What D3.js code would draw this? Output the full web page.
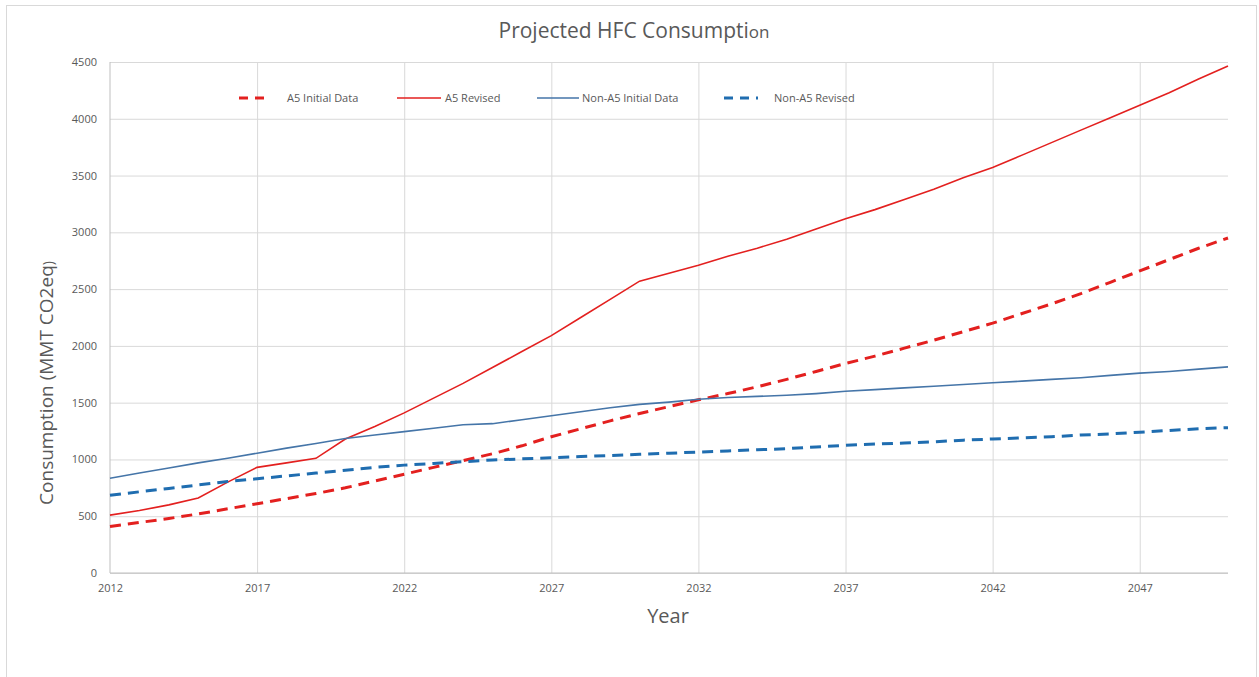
<!DOCTYPE html>
<html>
<head>
<meta charset="utf-8">
<script src="https://cdn.jsdelivr.net/npm/d3@7"></script>
<style>
  body { margin: 0; background: #fff; }
  text { font-family: "Open Sans", "DejaVu Sans", sans-serif; fill: #595959; }
</style>
</head>
<body>
<div id="chart"></div>
<script>
// years on the category axis
var years = d3.range(2012, 2051);
var xTickLabels = [2012, 2017, 2022, 2027, 2032, 2037, 2042, 2047];
var yTickLabels = [0, 500, 1000, 1500, 2000, 2500, 3000, 3500, 4000, 4500];

// values (MMT CO2eq)
var a5Initial = [410, 445, 480, 520, 565, 610, 655, 700, 750, 810, 870, 930, 990, 1050, 1120, 1200, 1270, 1340, 1405, 1465,
  1525, 1580, 1640, 1705, 1775, 1845, 1910, 1980, 2050, 2125, 2200, 2285, 2370, 2460, 2560, 2660, 2760, 2860, 2950];
var a5Revised = [510, 550, 600, 660, 800, 930, 970, 1010, 1180, 1290, 1410, 1540, 1670, 1810, 1950, 2090, 2250, 2410, 2570, 2640,
  2710, 2790, 2860, 2940, 3030, 3120, 3200, 3290, 3380, 3480, 3570, 3680, 3790, 3900, 4010, 4120, 4230, 4350, 4465];
var nonA5Initial = [835, 880, 925, 970, 1010, 1055, 1100, 1140, 1185, 1215, 1245, 1275, 1305, 1315, 1350, 1385, 1420, 1455, 1485, 1505,
  1530, 1545, 1555, 1565, 1580, 1600, 1615, 1630, 1645, 1660, 1675, 1690, 1705, 1720, 1740, 1760, 1775, 1795, 1815];
var nonA5Revised = [685, 715, 745, 775, 805, 830, 855, 880, 905, 930, 950, 965, 980, 995, 1005, 1015, 1025, 1035, 1045, 1055,
  1065, 1075, 1085, 1095, 1110, 1125, 1135, 1145, 1155, 1170, 1180, 1190, 1200, 1215, 1225, 1240, 1255, 1270, 1280];

var seriesNames = ["A5 Initial Data", "A5 Revised", "Non-A5 Initial Data", "Non-A5 Revised"];

var series = [
  {name: seriesNames[0], values: a5Initial, color: "#e3201f", width: 3, dash: "11,7"},
  {name: seriesNames[1], values: a5Revised, color: "#e3201f", width: 1.6, dash: null},
  {name: seriesNames[2], values: nonA5Initial, color: "#4575a8", width: 1.6, dash: null},
  {name: seriesNames[3], values: nonA5Revised, color: "#1f6db0", width: 3, dash: "11,7"}
];

var W = 1259, H = 677;
var plotLeft = 110, plotRight = 1228, plotTop = 62, plotBottom = 573;

var svg = d3.select("#chart").append("svg")
  .attr("width", W)
  .attr("height", H);

// chart frame
svg.append("rect")
  .attr("x", 6.5).attr("y", 5.5)
  .attr("width", 1250).attr("height", 700)
  .attr("fill", "#fff")
  .attr("stroke", "#d9d9d9");

var x = d3.scaleLinear().domain([2012, 2050]).range([plotLeft, plotRight]);
var y = d3.scaleLinear().domain([0, 4500]).range([plotBottom, plotTop]);

// horizontal gridlines
svg.append("g")
  .attr("transform", "translate(" + plotLeft + ",0)")
  .call(d3.axisLeft(y).tickValues(yTickLabels).tickSize(-(plotRight - plotLeft)).tickFormat(""))
  .call(function(g) {
    g.select(".domain").remove();
    g.selectAll("line").attr("stroke", "#d9d9d9");
  });

// vertical gridlines
svg.append("g")
  .attr("transform", "translate(0," + plotBottom + ")")
  .call(d3.axisBottom(x).tickValues(xTickLabels.slice(1)).tickSize(-(plotBottom - plotTop)).tickFormat(""))
  .call(function(g) {
    g.select(".domain").remove();
    g.selectAll("line").attr("stroke", "#d9d9d9");
  });

// axis lines
svg.append("line")
  .attr("x1", plotLeft).attr("x2", plotLeft).attr("y1", plotTop).attr("y2", plotBottom)
  .attr("stroke", "#bfbfbf");
svg.append("line")
  .attr("x1", plotLeft).attr("x2", plotRight).attr("y1", plotBottom).attr("y2", plotBottom)
  .attr("stroke", "#bfbfbf");

// y tick labels
svg.append("g")
  .attr("transform", "translate(" + plotLeft + ",0)")
  .call(d3.axisLeft(y).tickValues(yTickLabels).tickFormat(d3.format("d")).tickSize(0).tickPadding(13))
  .call(function(g) {
    g.select(".domain").remove();
    g.selectAll("text").attr("font-size", 11).attr("fill", "#595959")
      .style("font-family", "'Open Sans', sans-serif");
  });

// x tick labels
svg.append("g")
  .attr("transform", "translate(0," + plotBottom + ")")
  .call(d3.axisBottom(x).tickValues(xTickLabels).tickFormat(d3.format("d")).tickSize(0).tickPadding(11))
  .call(function(g) {
    g.select(".domain").remove();
    g.selectAll("text").attr("font-size", 11).attr("fill", "#595959")
      .style("font-family", "'Open Sans', sans-serif");
  });

// lines
var line = d3.line()
  .x(function(d, i) { return x(years[i]); })
  .y(function(d) { return y(d); });

series.forEach(function(s) {
  svg.append("path")
    .datum(s.values)
    .attr("d", line)
    .attr("fill", "none")
    .attr("stroke", s.color)
    .attr("stroke-width", s.width)
    .attr("stroke-dasharray", s.dash);
});

// legend
var legendX = [239, 397, 537, 724];
var legendLen = [32, 44, 42, 34];
var legendGap = [16, 4, 3, 16];
var legend = svg.append("g").attr("transform", "translate(0,98)");
series.forEach(function(s, i) {
  legend.append("line")
    .attr("x1", legendX[i]).attr("x2", legendX[i] + legendLen[i])
    .attr("y1", 0).attr("y2", 0)
    .attr("stroke", s.color)
    .attr("stroke-width", s.width)
    .attr("stroke-dasharray", s.dash ? "9,7" : null);
  legend.append("text")
    .attr("x", legendX[i] + legendLen[i] + legendGap[i])
    .attr("y", 4)
    .attr("font-size", 11)
    .text(s.name);
});

// title
var title = svg.append("text")
  .attr("x", 634).attr("y", 38)
  .attr("text-anchor", "middle")
  .attr("font-size", 21);
title.append("tspan").text("Projected HFC Consumpti");
title.append("tspan").attr("font-size", 17).text("on");

// axis titles
svg.append("text")
  .attr("x", 668).attr("y", 623)
  .attr("text-anchor", "middle")
  .attr("font-size", 20)
  .text("Year");

var yTitle = svg.append("text")
  .attr("transform", "translate(53,383) rotate(-90)")
  .attr("text-anchor", "middle")
  .attr("font-size", 19);
yTitle.append("tspan").text("Consumption (MMT CO2eq");
yTitle.append("tspan").attr("font-size", 14).text(")");
</script>
</body>
</html>
